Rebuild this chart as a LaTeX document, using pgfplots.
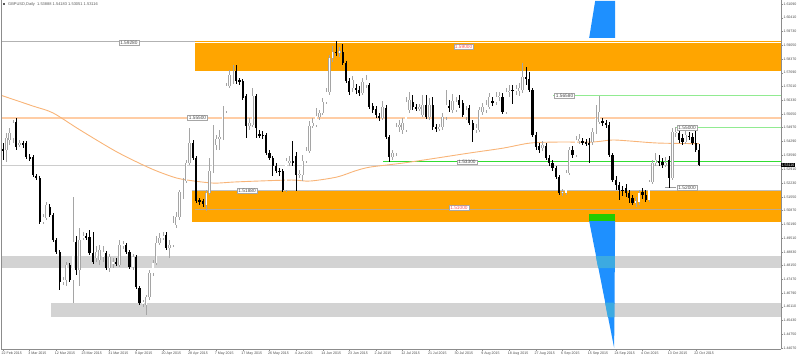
\documentclass[border=0pt]{standalone}
\usepackage{fontspec}
\setmainfont{Liberation Sans}
\usepackage{pgfplots}
\usepackage{pgfplotstable}
\pgfplotsset{compat=1.18}
\definecolor{zone}{RGB}{255,165,0}
\definecolor{peach}{RGB}{255,205,165}
\definecolor{lgreen}{RGB}{145,235,145}
\definecolor{mgreen}{RGB}{50,220,50}
\definecolor{band}{RGB}{211,211,211}
\definecolor{pline}{RGB}{205,205,205}
\definecolor{dblue}{RGB}{30,144,255}
\definecolor{gbox}{RGB}{34,204,0}
\definecolor{patch}{RGB}{60,170,225}
\definecolor{maline}{RGB}{248,180,120}
\definecolor{bullc}{RGB}{165,165,165}
\definecolor{zline}{RGB}{190,170,140}
\definecolor{pinktxt}{RGB}{255,80,80}

\pgfplotstableread{
i o h l c
0 1.5391 1.5421 1.5337 1.5382
1 1.5387 1.5471 1.5327 1.5446
2 1.5436 1.5495 1.5411 1.5471
3 1.5446 1.5535 1.5421 1.5520
4 1.5525 1.5545 1.5387 1.5401
5 1.5416 1.5436 1.5401 1.5421
6 1.5421 1.5431 1.5396 1.5411
7 1.5421 1.5431 1.5342 1.5352
8 1.5352 1.5367 1.5332 1.5347
9 1.5352 1.5362 1.5253 1.5263
10 1.5258 1.5268 1.5238 1.5248
11 1.5248 1.5258 1.5020 1.5030
12 1.5030 1.5070 1.5020 1.5055
13 1.5050 1.5129 1.5040 1.5114
14 1.5104 1.5119 1.5055 1.5065
15 1.5065 1.5075 1.4931 1.4941
16 1.4941 1.4951 1.4872 1.4882
17 1.4882 1.4892 1.4694 1.4733
18 1.4733 1.4758 1.4718 1.4743
19 1.4743 1.4832 1.4713 1.4817
20 1.4817 1.4827 1.4733 1.4743
21 1.4743 1.5154 1.4629 1.4931
22 1.4931 1.4961 1.4768 1.4793
23 1.4793 1.5000 1.4713 1.4941
24 1.4956 1.4981 1.4941 1.4961
25 1.4961 1.4976 1.4941 1.4956
26 1.4956 1.4991 1.4867 1.4877
27 1.4877 1.4981 1.4822 1.4832
28 1.4852 1.4911 1.4832 1.4882
29 1.4842 1.4916 1.4817 1.4892
30 1.4857 1.4911 1.4832 1.4882
31 1.4877 1.4887 1.4793 1.4802
32 1.4802 1.4872 1.4783 1.4857
33 1.4827 1.4852 1.4802 1.4832
34 1.4832 1.4852 1.4812 1.4827
35 1.4817 1.4941 1.4807 1.4916
36 1.4916 1.4936 1.4896 1.4921
37 1.4916 1.4926 1.4872 1.4882
38 1.4882 1.4892 1.4797 1.4807
39 1.4807 1.4872 1.4793 1.4857
40 1.4857 1.4867 1.4698 1.4708
41 1.4703 1.4713 1.4619 1.4629
42 1.4624 1.4644 1.4609 1.4634
43 1.4619 1.4669 1.4570 1.4659
44 1.4659 1.4793 1.4644 1.4778
45 1.4778 1.4842 1.4763 1.4827
46 1.4827 1.4961 1.4817 1.4926
47 1.4926 1.4976 1.4916 1.4951
48 1.4956 1.4981 1.4941 1.4961
49 1.4966 1.4981 1.4892 1.4901
50 1.4901 1.4941 1.4852 1.4916
51 1.4916 1.5060 1.4906 1.5025
52 1.5015 1.5080 1.5000 1.5055
53 1.5055 1.5189 1.5040 1.5179
54 1.5154 1.5248 1.5144 1.5233
55 1.5233 1.5337 1.5223 1.5322
56 1.5322 1.5495 1.5312 1.5421
57 1.5421 1.5436 1.5337 1.5347
58 1.5347 1.5357 1.5124 1.5134
59 1.5139 1.5149 1.5114 1.5129
60 1.5134 1.5144 1.5104 1.5119
61 1.5114 1.5189 1.5085 1.5174
62 1.5174 1.5347 1.5164 1.5283
63 1.5283 1.5510 1.5273 1.5411
64 1.5411 1.5461 1.5387 1.5441
65 1.5441 1.5486 1.5387 1.5451
66 1.5446 1.5604 1.5436 1.5580
67 1.5580 1.5718 1.5570 1.5703
68 1.5703 1.5783 1.5693 1.5758
69 1.5728 1.5807 1.5713 1.5778
70 1.5778 1.5807 1.5713 1.5728
71 1.5733 1.5743 1.5708 1.5723
72 1.5728 1.5738 1.5634 1.5644
73 1.5654 1.5664 1.5446 1.5505
74 1.5505 1.5545 1.5486 1.5520
75 1.5510 1.5693 1.5500 1.5654
76 1.5654 1.5664 1.5446 1.5495
77 1.5466 1.5486 1.5446 1.5456
78 1.5461 1.5481 1.5441 1.5456
79 1.5461 1.5471 1.5362 1.5372
80 1.5372 1.5387 1.5337 1.5347
81 1.5347 1.5357 1.5258 1.5307
82 1.5307 1.5322 1.5273 1.5283
83 1.5283 1.5297 1.5258 1.5278
84 1.5283 1.5292 1.5179 1.5189
85 1.5189 1.5347 1.5179 1.5332
86 1.5322 1.5357 1.5307 1.5332
87 1.5332 1.5431 1.5307 1.5322
88 1.5357 1.5377 1.5184 1.5263
89 1.5263 1.5288 1.5248 1.5268
90 1.5263 1.5362 1.5233 1.5332
91 1.5332 1.5401 1.5322 1.5382
92 1.5382 1.5530 1.5372 1.5505
93 1.5505 1.5545 1.5495 1.5520
94 1.5510 1.5594 1.5500 1.5555
95 1.5550 1.5585 1.5535 1.5570
96 1.5570 1.5644 1.5560 1.5624
97 1.5624 1.5693 1.5614 1.5674
98 1.5674 1.5857 1.5659 1.5842
99 1.5842 1.5901 1.5822 1.5872
100 1.5872 1.5926 1.5852 1.5867
101 1.5867 1.5896 1.5847 1.5877
102 1.5872 1.5911 1.5807 1.5817
103 1.5817 1.5827 1.5718 1.5728
104 1.5728 1.5743 1.5659 1.5674
105 1.5693 1.5753 1.5674 1.5733
106 1.5693 1.5713 1.5664 1.5684
107 1.5684 1.5703 1.5654 1.5669
108 1.5669 1.5743 1.5659 1.5723
109 1.5708 1.5758 1.5693 1.5733
110 1.5708 1.5718 1.5589 1.5599
111 1.5604 1.5619 1.5570 1.5585
112 1.5589 1.5604 1.5545 1.5560
113 1.5555 1.5570 1.5530 1.5545
114 1.5545 1.5629 1.5535 1.5599
115 1.5594 1.5609 1.5441 1.5451
116 1.5451 1.5461 1.5327 1.5352
117 1.5352 1.5387 1.5337 1.5372
118 1.5372 1.5520 1.5357 1.5500
119 1.5500 1.5535 1.5476 1.5510
120 1.5486 1.5545 1.5466 1.5520
121 1.5486 1.5649 1.5476 1.5624
122 1.5585 1.5674 1.5570 1.5634
123 1.5624 1.5659 1.5585 1.5599
124 1.5599 1.5614 1.5580 1.5594
125 1.5594 1.5614 1.5580 1.5599
126 1.5560 1.5659 1.5550 1.5609
127 1.5609 1.5659 1.5540 1.5550
128 1.5550 1.5644 1.5535 1.5609
129 1.5609 1.5649 1.5486 1.5500
130 1.5500 1.5515 1.5476 1.5495
131 1.5495 1.5515 1.5481 1.5500
132 1.5500 1.5570 1.5486 1.5550
133 1.5550 1.5684 1.5535 1.5609
134 1.5604 1.5634 1.5575 1.5594
135 1.5585 1.5664 1.5570 1.5629
136 1.5585 1.5649 1.5575 1.5624
137 1.5634 1.5659 1.5594 1.5609
138 1.5619 1.5634 1.5550 1.5560
139 1.5550 1.5604 1.5535 1.5585
140 1.5594 1.5609 1.5510 1.5520
141 1.5520 1.5535 1.5426 1.5486
142 1.5490 1.5515 1.5471 1.5495
143 1.5486 1.5599 1.5476 1.5585
144 1.5575 1.5619 1.5560 1.5599
145 1.5585 1.5634 1.5570 1.5609
146 1.5599 1.5669 1.5589 1.5649
147 1.5629 1.5649 1.5604 1.5624
148 1.5624 1.5674 1.5609 1.5649
149 1.5649 1.5674 1.5629 1.5654
150 1.5649 1.5669 1.5565 1.5575
151 1.5575 1.5693 1.5565 1.5674
152 1.5674 1.5708 1.5649 1.5679
153 1.5684 1.5708 1.5614 1.5679
154 1.5679 1.5708 1.5659 1.5688
155 1.5679 1.5718 1.5654 1.5693
156 1.5684 1.5817 1.5669 1.5748
157 1.5748 1.5797 1.5708 1.5738
158 1.5738 1.5773 1.5674 1.5684
159 1.5684 1.5693 1.5451 1.5461
160 1.5461 1.5476 1.5387 1.5401
161 1.5406 1.5421 1.5372 1.5387
162 1.5396 1.5431 1.5382 1.5411
163 1.5406 1.5421 1.5337 1.5347
164 1.5347 1.5362 1.5307 1.5322
165 1.5322 1.5337 1.5283 1.5297
166 1.5297 1.5307 1.5243 1.5253
167 1.5253 1.5263 1.5164 1.5174
168 1.5174 1.5193 1.5159 1.5179
169 1.5174 1.5288 1.5164 1.5273
170 1.5273 1.5401 1.5263 1.5387
171 1.5387 1.5406 1.5347 1.5362
172 1.5362 1.5456 1.5352 1.5436
173 1.5431 1.5466 1.5416 1.5441
174 1.5431 1.5446 1.5411 1.5426
175 1.5426 1.5441 1.5406 1.5421
176 1.5421 1.5446 1.5322 1.5416
177 1.5426 1.5495 1.5411 1.5476
178 1.5476 1.5609 1.5466 1.5545
179 1.5525 1.5654 1.5515 1.5575
180 1.5530 1.5545 1.5505 1.5520
181 1.5520 1.5535 1.5495 1.5510
182 1.5510 1.5525 1.5352 1.5362
183 1.5362 1.5372 1.5228 1.5238
184 1.5238 1.5258 1.5189 1.5213
185 1.5213 1.5228 1.5139 1.5189
186 1.5189 1.5208 1.5159 1.5184
187 1.5198 1.5218 1.5154 1.5174
188 1.5174 1.5189 1.5124 1.5149
189 1.5149 1.5164 1.5114 1.5124
190 1.5129 1.5154 1.5104 1.5134
191 1.5129 1.5189 1.5114 1.5174
192 1.5179 1.5198 1.5144 1.5164
193 1.5164 1.5189 1.5129 1.5139
194 1.5139 1.5238 1.5129 1.5228
195 1.5228 1.5337 1.5218 1.5322
196 1.5322 1.5372 1.5307 1.5337
197 1.5332 1.5362 1.5307 1.5327
198 1.5327 1.5347 1.5297 1.5312
199 1.5312 1.5352 1.5302 1.5322
200 1.5337 1.5357 1.5198 1.5248
201 1.5248 1.5495 1.5238 1.5476
202 1.5471 1.5500 1.5451 1.5476
203 1.5471 1.5490 1.5421 1.5436
204 1.5446 1.5466 1.5411 1.5426
205 1.5426 1.5481 1.5416 1.5461
206 1.5456 1.5476 1.5436 1.5451
207 1.5451 1.5471 1.5411 1.5421
208 1.5421 1.5500 1.5377 1.5387
209 1.53888 1.54183 1.53051 1.53116
}\candles

\tikzset{lbl/.style={draw=black!35, fill=white, line width=0.3bp, inner xsep=1.3bp, inner ysep=0.7bp,
  font=\fontsize{4.8}{5}\selectfont, text=black!70}}
\pgfplotsset{candle/.style={draw=none, mark=none, forget plot,
  error bars/y dir=both, error bars/y explicit, error bars/error mark=none}}

\begin{document}
\begin{tikzpicture}
\useasboundingbox (0,0) rectangle (799bp,358bp);
\begin{axis}[
  at={(1bp,9bp)}, anchor=south west,
  scale only axis, width=780bp, height=349bp,
  xmin=-0.6, xmax=233.6, ymin=1.4402, ymax=1.61288,
  clip mode=individual,
  axis x line*=bottom, axis y line*=right,
  axis line style={draw=black!45, line width=0.5bp},
  tick align=outside, major tick length=2bp,
  tick style={draw=black!45, line width=0.4bp},
  scaled y ticks=false,
  xtick={0,8,...,208},
  xticklabels={22 Feb 2015,3 Mar 2015,12 Mar 2015,23 Mar 2015,31 Mar 2015,9 Apr 2015,20 Apr 2015,28 Apr 2015,7 May 2015,17 May 2015,26 May 2015,4 Jun 2015,14 Jun 2015,23 Jun 2015,2 Jul 2015,12 Jul 2015,21 Jul 2015,30 Jul 2015,9 Aug 2015,18 Aug 2015,27 Aug 2015,6 Sep 2015,15 Sep 2015,24 Sep 2015,4 Oct 2015,13 Oct 2015,22 Oct 2015},
  ytick={1.61090,1.60410,1.59730,1.59050,1.58370,1.57690,1.57010,1.56330,1.55650,1.54970,1.54290,1.53590,1.52910,1.52230,1.51550,1.50870,1.50190,1.49510,1.48830,1.48150,1.47470,1.46790,1.46110,1.45430,1.44750,1.44070},
  yticklabels={1.61090,1.60410,1.59730,1.59050,1.58370,1.57690,1.57010,1.56330,1.55650,1.54970,1.54290,1.53590,1.52910,1.52230,1.51550,1.50870,1.50190,1.49510,1.48830,1.48150,1.47470,1.46790,1.46110,1.45430,1.44750,1.44070},
  x tick label style={anchor=north west, inner sep=0pt, xshift=-1.5bp, yshift=-0.6bp,
    font=\fontsize{3.6}{4}\selectfont, text=black!70},
  y tick label style={anchor=west, inner sep=0pt, xshift=0.3bp,
    font=\fontsize{3.6}{4}\selectfont, text=black!70},
]
% gray bands
\addplot[fill=band, draw=none] coordinates {(-0.6,1.4862) (233.6,1.4862) (233.6,1.4802) (-0.6,1.4802)};
\addplot[fill=band, draw=none] coordinates {(14.4,1.4631) (233.6,1.4631) (233.6,1.4559) (14.4,1.4559)};
% orange zones
\addplot[draw=black!30, line width=0.5bp] coordinates {(-0.6,1.5927) (233.6,1.5927)};
\addplot[fill=zone, draw=none] coordinates {(57.7,1.5926) (233.6,1.5926) (233.6,1.5776) (57.7,1.5776)};
\addplot[draw=white, line width=0.5bp] coordinates {(57.7,1.5919) (233.6,1.5919)};
\addplot[fill=zone, draw=none] coordinates {(56.7,1.5186) (233.6,1.5186) (233.6,1.5031) (56.7,1.5031)};
\addplot[draw=black!25, line width=0.4bp] coordinates {(56.7,1.5187) (233.6,1.5187)};
\addplot[draw=zline, line width=1bp] coordinates {(57.7,1.5093) (233.6,1.5093)};
% horizontal lines
\addplot[draw=peach, line width=1.5bp] coordinates {(-0.6,1.5546) (233.6,1.5546)};
\addplot[draw=lgreen, line width=0.8bp] coordinates {(165.2,1.5655) (233.6,1.5655)};
\addplot[draw=lgreen, line width=0.8bp] coordinates {(202.1,1.5497) (233.6,1.5497)};
\addplot[draw=pline, line width=0.5bp] coordinates {(-0.6,1.53116) (233.6,1.53116)};
\addplot[draw=mgreen, line width=1bp] coordinates {(114.1,1.5328) (233.6,1.5328)};
\addplot[draw=black!40, line width=0.4bp] coordinates {(198.8,1.5201) (202.1,1.5201)};
% moving average
\addplot[draw=maline, line width=0.9bp, smooth] coordinates {
(-0.9,1.5659) (9.0,1.5604) (15.0,1.5570) (23.1,1.5486) (34.2,1.5377) (44.1,1.5297)
(51.1,1.5253) (55.3,1.5238) (63.1,1.5223) (69.1,1.5228) (76.6,1.5233) (86.8,1.5238)
(92.2,1.5233) (100.3,1.5253) (105.7,1.5283) (110.2,1.5302) (120.1,1.5322) (130.3,1.5347)
(140.2,1.5372) (150.2,1.5396) (158.3,1.5421) (166.7,1.5426) (176.9,1.5426) (182.9,1.5436)
(188.3,1.5431) (196.7,1.5421) (209,1.5418)};
% blue / green shapes
\addplot[fill=dblue, draw=none] coordinates {(177.8,1.6124) (183.8,1.6124) (183.8,1.5941) (176.0,1.5941)};
\addplot[fill=gbox, draw=none] coordinates {(176.0,1.5070) (183.8,1.5070) (183.8,1.5035) (176.0,1.5035)};
\addplot[fill=dblue, draw=none] coordinates {(176.0,1.5035) (183.8,1.5035) (183.5,1.4407)};
\addplot[fill=patch, draw=none] coordinates {(178.0,1.4862) (183.7,1.4862) (183.7,1.4802) (178.7,1.4802)};
\addplot[fill=patch, draw=none] coordinates {(180.8,1.4631) (183.6,1.4631) (183.6,1.4559) (181.6,1.4559)};
% candles: bearish
\addplot[candle, restrict expr to domain={\thisrow{c}-\thisrow{o}}{-1:-0.00001},
  error bars/error bar style={draw=black, solid, line cap=butt, line width=0.6bp}]
  table[x=i, y expr={(\thisrow{h}+\thisrow{l})/2}, y error expr={(\thisrow{h}-\thisrow{l})/2}] {\candles};
\addplot[candle, restrict expr to domain={\thisrow{c}-\thisrow{o}}{-1:-0.00001},
  error bars/error bar style={draw=black, solid, line cap=butt, line width=2.2bp}]
  table[x=i, y expr={(\thisrow{o}+\thisrow{c})/2}, y error expr={max((\thisrow{o}-\thisrow{c})/2,0.00013)}] {\candles};
% candles: bullish
\addplot[candle, restrict expr to domain={\thisrow{c}-\thisrow{o}}{0:1},
  error bars/error bar style={draw=bullc, solid, line cap=butt, line width=0.6bp}]
  table[x=i, y expr={(\thisrow{h}+\thisrow{l})/2}, y error expr={(\thisrow{h}-\thisrow{l})/2}] {\candles};
\addplot[candle, restrict expr to domain={\thisrow{c}-\thisrow{o}}{0:1},
  error bars/error bar style={draw=bullc, solid, line cap=butt, line width=2.4bp}]
  table[x=i, y expr={(\thisrow{o}+\thisrow{c})/2}, y error expr={max((\thisrow{c}-\thisrow{o})/2,0.00015)+0.0001}] {\candles};
\addplot[candle, restrict expr to domain={\thisrow{c}-\thisrow{o}}{0:1},
  error bars/error bar style={draw=white, solid, line cap=butt, line width=1.3bp}]
  table[x=i, y expr={(\thisrow{o}+\thisrow{c})/2}, y error expr={max((\thisrow{c}-\thisrow{o})/2-0.0001,0)}] {\candles};
% labels
\node[lbl] at (axis cs:37.8,1.5919) {1.59280};
\node[lbl, text=pinktxt] at (axis cs:138.3,1.5899) {1.59000};
\node[lbl] at (axis cs:58.4,1.5545) {1.55500};
\node[lbl] at (axis cs:73.3,1.5186) {1.51880};
\node[lbl, text=pinktxt] at (axis cs:136.9,1.5100) {1.51000};
\node[lbl] at (axis cs:139.3,1.5327) {1.53300};
\node[lbl] at (axis cs:168.6,1.5654) {1.56580};
\node[lbl] at (axis cs:205.4,1.5496) {1.55000};
\node[lbl] at (axis cs:205.4,1.5201) {1.52000};
\node[fill=black, text=white, anchor=west, inner sep=0.4bp, font=\fontsize{3.6}{4}\selectfont]
  at (axis cs:233.6,1.53116) {1.53116};
\node[anchor=north west, inner sep=0pt, xshift=7bp, yshift=-2.6bp, font=\fontsize{4}{4.5}\selectfont, text=black!65]
  at (rel axis cs:0,1) {GBPUSD,Daily\ \ 1.53888 1.54183 1.53051 1.53116};
\fill[black!65] (rel axis cs:0,1) ++(1.5bp,-3.5bp) rectangle ++(2.8bp,-1.6bp);
\draw[black!45, line width=0.5bp] (rel axis cs:0,0) -- (rel axis cs:0,1);
\end{axis}
\end{tikzpicture}
\end{document}
